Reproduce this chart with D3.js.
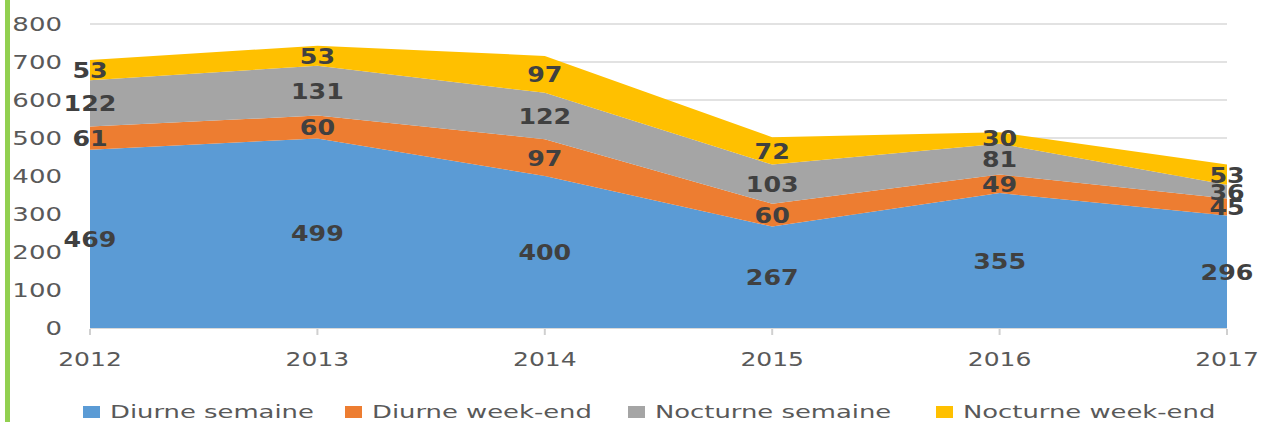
<!DOCTYPE html>
<html>
<head>
<meta charset="utf-8">
<script src="https://cdn.jsdelivr.net/npm/d3@7"></script>
<style>
  body { margin: 0; background: #fff; }
  svg { display: block; }
</style>
</head>
<body>
<script>
var years = [2012, 2013, 2014, 2015, 2016, 2017];
var seriesNames = ["Diurne semaine", "Diurne week-end", "Nocturne semaine", "Nocturne week-end"];
var diurneSemaine = [469, 499, 400, 267, 355, 296];
var diurneWeekend = [61, 60, 97, 60, 49, 45];
var nocturneSemaine = [122, 131, 122, 103, 81, 36];
var nocturneWeekend = [53, 53, 97, 72, 30, 53];
var yTicks = [0, 100, 200, 300, 400, 500, 600, 700, 800];
var colors = ["#5b9bd5", "#ed7d31", "#a5a5a5", "#ffc000"];

var width = 1262,
    height = 422;

var rows = years.map(function(y, i) {
  return {
    year: y,
    "Diurne semaine": diurneSemaine[i],
    "Diurne week-end": diurneWeekend[i],
    "Nocturne semaine": nocturneSemaine[i],
    "Nocturne week-end": nocturneWeekend[i]
  };
});

var svg = d3.select("body").append("svg")
    .attr("width", width)
    .attr("height", height);

// green edge on the left
svg.append("rect")
    .attr("x", 5).attr("y", 0)
    .attr("width", 5).attr("height", height)
    .attr("fill", "#92d050");

var x = d3.scaleLinear().domain([2012, 2017]).range([90, 1227]);
var y = d3.scaleLinear().domain([0, 800]).range([328, 24]);

// gridlines
svg.append("g").selectAll("line")
    .data(yTicks.slice(1))
  .enter().append("line")
    .attr("x1", x(2012)).attr("x2", x(2017))
    .attr("y1", function(d) { return y(d); })
    .attr("y2", function(d) { return y(d); })
    .attr("stroke", "#d9d9d9")
    .attr("stroke-width", 1.5);

var stack = d3.stack().keys(seriesNames);
var layers = stack(rows);

var area = d3.area()
    .x(function(d) { return x(d.data.year); })
    .y0(function(d) { return y(d[0]); })
    .y1(function(d) { return y(d[1]); });

svg.append("g").selectAll("path")
    .data(layers)
  .enter().append("path")
    .attr("d", area)
    .attr("fill", function(d, i) { return colors[i]; });

// x axis line + ticks
svg.append("line")
    .attr("x1", x(2012)).attr("x2", x(2017))
    .attr("y1", y(0) + 0.5).attr("y2", y(0) + 0.5)
    .attr("stroke", "#d9d9d9");

svg.append("g").selectAll("line")
    .data(years)
  .enter().append("line")
    .attr("x1", function(d) { return x(d); })
    .attr("x2", function(d) { return x(d); })
    .attr("y1", y(0) + 1).attr("y2", y(0) + 7)
    .attr("stroke", "#d0d0d0")
    .attr("stroke-width", 2);

// text is wider than the font's natural shape in the picture
function stretched(sel, px, py, anchor, sx) {
  return sel.append("text")
      .attr("transform", "translate(" + px + "," + py + ") scale(" + sx + ",1)")
      .attr("text-anchor", anchor);
}

var font = "'DejaVu Sans', Verdana, sans-serif";

// y tick labels
var yLab = svg.append("g").attr("font-family", font).attr("font-size", 19).attr("fill", "#595959");
yTicks.forEach(function(t) {
  stretched(yLab, 62, y(t) + 7, "end", 1.37).text(t);
});

// x tick labels
var xLab = svg.append("g").attr("font-family", font).attr("font-size", 20).attr("fill", "#595959");
years.forEach(function(yr) {
  stretched(xLab, x(yr), 366, "middle", 1.25).text(yr);
});

// data labels in the middle of each band
var dLab = svg.append("g").attr("font-family", font).attr("font-size", 22)
    .attr("font-weight", "bold").attr("fill", "#404040");
layers.forEach(function(layer) {
  layer.forEach(function(d) {
    var v = d[1] - d[0];
    stretched(dLab, x(d.data.year), y((d[0] + d[1]) / 2) + 8, "middle", 1.15).text(v);
  });
});

// legend
var legendX = [83, 345, 628, 936];
var leg = svg.append("g").attr("font-family", font).attr("font-size", 17).attr("fill", "#595959");
seriesNames.forEach(function(name, i) {
  leg.append("rect")
      .attr("x", legendX[i]).attr("y", 406)
      .attr("width", 17).attr("height", 12)
      .attr("fill", colors[i]);
  stretched(leg, legendX[i] + 27, 418, "start", 1.52).text(name);
});
</script>
</body>
</html>
